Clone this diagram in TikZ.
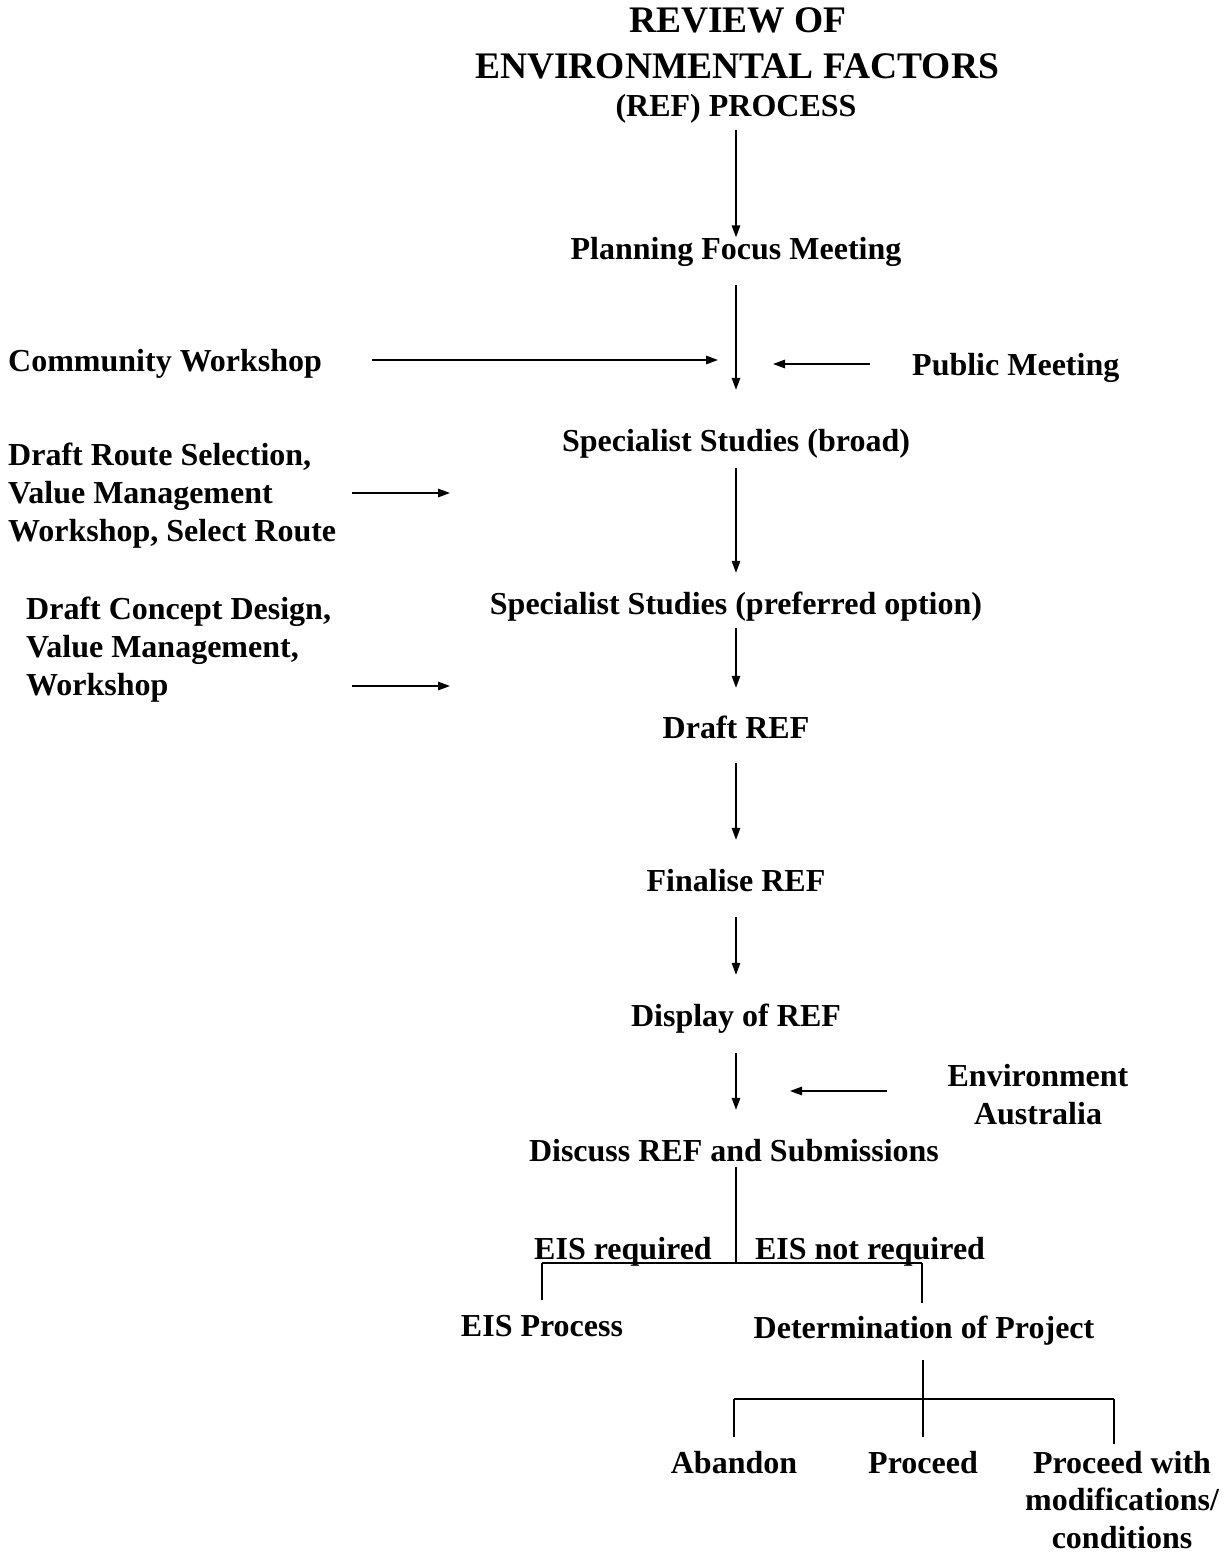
\documentclass[tikz,border=0pt]{standalone}
\usepackage{fontspec}
\setmainfont{Liberation Serif}
\usetikzlibrary{arrows.meta,calc}
\begin{document}
\begin{tikzpicture}[x=1pt,y=-1pt,
  lbl/.style={font=\bfseries\fontsize{32}{38}\selectfont, inner sep=0pt, text height=26pt, text depth=3pt},
  mlbl/.style={font=\bfseries\fontsize{32}{38}\selectfont, inner sep=0pt},
  ttl/.style={font=\bfseries\fontsize{37.5}{44}\selectfont, inner sep=0pt, text height=30pt, text depth=4pt},
  arr/.style={line width=1.5pt, -{Triangle[length=12pt,width=8.5pt]}},
  ln/.style={line width=1.5pt}]
\useasboundingbox (0,0) rectangle (1225,1554);
\fill[white] (0,0) rectangle (1225,1554);

% title
\node[ttl] (t1) at (738,20) {REVIEW OF};
\node[ttl] (t2) at (737,66) {ENVIRONMENTAL FACTORS};
\node[lbl] (t3) at (736,105) {(REF) PROCESS};

% main column
\node[lbl] (pfm) at (736,248) {Planning Focus Meeting};
\node[lbl] (ssb) at (736,440) {Specialist Studies (broad)};
\node[lbl] (ssp) at (736,603) {Specialist Studies (preferred option)};
\node[lbl] (draft) at (736,727) {Draft REF};
\node[lbl] (fin) at (736,880) {Finalise REF};
\node[lbl] (disp) at (736,1015) {Display of REF};
\node[lbl] (disc) at (734,1150) {Discuss REF and Submissions};

% side inputs
\node[lbl, anchor=west] (cw) at (8,360) {Community Workshop};
\node[lbl, anchor=west] (pm) at (912,364) {Public Meeting};
\node[mlbl, anchor=west, align=left] (drs) at (8,496) {Draft Route Selection,\\Value Management\\Workshop, Select Route};
\node[mlbl, anchor=west, align=left] (dcd) at (26,650) {Draft Concept Design,\\Value Management,\\Workshop};
\node[mlbl, align=center] (env) at (1038,1095) {Environment\\Australia};

% outcome nodes
\node[lbl] (eisreq) at (623,1248) {EIS required};
\node[lbl] (eisnot) at (870,1248) {EIS not required};
\node[lbl] (eisp) at (542,1325) {EIS Process};
\node[lbl] (det) at (924,1327) {Determination of Project};
\node[lbl] (aban) at (734,1462) {Abandon};
\node[lbl] (proc) at (923,1462) {Proceed};
\node[mlbl, align=center, font=\bfseries\fontsize{32}{37.5}\selectfont] (pwm) at (1122,1500) {Proceed with\\modifications/\\conditions};

% coordinates for free ends
\coordinate (cwend) at (718,360);
\coordinate (pmend) at (773,364);
\coordinate (drsend) at (450,493);
\coordinate (dcdend) at (450,686);
\coordinate (envend) at (790,1091);
\coordinate (br1) at (736,1263);
\coordinate (br1l) at (542,1263);
\coordinate (br1r) at (922,1263);
\coordinate (br2) at (923,1399);
\coordinate (br2l) at (734,1399);
\coordinate (br2r) at (1114,1399);

% main arrows
\draw[arr, shorten <=10.5pt, shorten >=-4pt] (t3) -- (pfm);
\draw[arr, shorten <=22.5pt, shorten >=35.5pt] (pfm) -- (ssb);
\draw[arr, shorten <=13.5pt, shorten >=15.5pt] (ssb) -- (ssp);
\draw[arr, shorten <=10.5pt, shorten >=24.5pt] (ssp) -- (draft);
\draw[arr, shorten <=21.5pt, shorten >=25.5pt] (draft) -- (fin);
\draw[arr, shorten <=22.5pt, shorten >=25.5pt] (fin) -- (disp);
\draw[arr, shorten <=23.5pt, shorten >=25.5pt] (disp.south) -- (disp.south |- disc.north);

% side arrows
\draw[arr, shorten <=50pt] (cw.east) -- (cwend);
\draw[arr, shorten <=42pt] (pm.west) -- (pmend);
\draw[arr, shorten <=16pt] (drs.east |- drsend) -- (drsend);
\draw[arr, shorten <=21pt] (dcd.east |- dcdend) -- (dcdend);
\draw[arr, shorten <=60pt] (env.west |- envend) -- (envend);

% decision tree
\draw[ln, shorten <=2.5pt] (disc.south -| br1) -- (br1);
\draw[ln] (br1l) -- (br1r);
\draw[ln, shorten >=10.5pt] (br1l) -- (br1l |- eisp.north);
\draw[ln, shorten >=9.5pt] (br1r) -- (br1r |- det.north);

\draw[ln, shorten <=18.5pt, shorten >=10.5pt] (det.south -| proc) -- (proc);
\draw[ln] (br2l) -- (br2r);
\draw[ln, shorten >=10.5pt] (br2l) -- (aban.north);
\draw[ln, shorten >=7.5pt] (br2r) -- (br2r |- pwm.north);
\end{tikzpicture}
\end{document}
